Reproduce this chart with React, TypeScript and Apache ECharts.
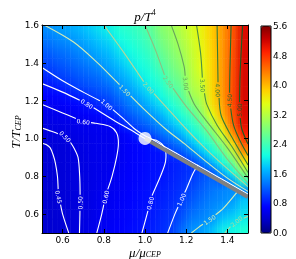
import React, { useEffect, useRef } from "react";
import * as echarts from "echarts";

// ---- grid of p/T^4 values ----
const muCenters = [0.525, 0.575, 0.625, 0.675, 0.725, 0.775, 0.825, 0.875, 0.925, 0.975, 1.025, 1.075, 1.125, 1.175, 1.225, 1.275, 1.325, 1.375, 1.425, 1.475];
const tCenters = [0.525, 0.575, 0.625, 0.675, 0.725, 0.775, 0.825, 0.875, 0.925, 0.975, 1.025, 1.075, 1.125, 1.175, 1.225, 1.275, 1.325, 1.375, 1.425, 1.475, 1.525, 1.575];
// one column per mu value, from low T to high T
const pressureByMu = [
  [0.405, 0.41, 0.415, 0.42, 0.425, 0.43, 0.435, 0.44, 0.445, 0.455, 0.485, 0.52, 0.56, 0.61, 0.70, 0.79, 0.91, 1.03, 1.13, 1.24, 1.35, 1.46],
  [0.425, 0.43, 0.435, 0.44, 0.445, 0.45, 0.452, 0.455, 0.46, 0.475, 0.50, 0.54, 0.585, 0.64, 0.73, 0.85, 1.01, 1.11, 1.22, 1.33, 1.44, 1.55],
  [0.448, 0.452, 0.458, 0.462, 0.465, 0.468, 0.47, 0.475, 0.48, 0.49, 0.52, 0.56, 0.60, 0.68, 0.78, 0.95, 1.08, 1.18, 1.28, 1.38, 1.50, 1.60],
  [0.49, 0.492, 0.493, 0.494, 0.495, 0.496, 0.497, 0.499, 0.505, 0.52, 0.545, 0.58, 0.64, 0.72, 0.85, 1.05, 1.16, 1.26, 1.36, 1.47, 1.57, 1.68],
  [0.54, 0.535, 0.53, 0.53, 0.53, 0.53, 0.535, 0.54, 0.545, 0.555, 0.575, 0.595, 0.68, 0.79, 0.95, 1.12, 1.23, 1.34, 1.46, 1.57, 1.68, 1.79],
  [0.605, 0.595, 0.59, 0.585, 0.58, 0.575, 0.575, 0.575, 0.58, 0.585, 0.59, 0.61, 0.72, 0.88, 1.06, 1.19, 1.30, 1.44, 1.58, 1.69, 1.80, 1.91],
  [0.64, 0.63, 0.62, 0.61, 0.603, 0.595, 0.59, 0.585, 0.585, 0.585, 0.59, 0.63, 0.83, 1.01, 1.14, 1.28, 1.45, 1.58, 1.68, 1.79, 1.90, 2.01],
  [0.68, 0.67, 0.66, 0.655, 0.645, 0.64, 0.63, 0.62, 0.615, 0.61, 0.64, 0.79, 1.01, 1.16, 1.31, 1.47, 1.60, 1.72, 1.85, 1.97, 2.08, 2.18],
  [0.745, 0.73, 0.72, 0.71, 0.70, 0.69, 0.68, 0.675, 0.675, 0.69, 0.74, 1.00, 1.18, 1.35, 1.49, 1.62, 1.76, 1.90, 2.02, 2.10, 2.18, 2.26],
  [0.79, 0.775, 0.765, 0.755, 0.745, 0.735, 0.725, 0.72, 0.72, 0.74, 0.98, 1.16, 1.33, 1.50, 1.66, 1.82, 1.98, 2.07, 2.15, 2.23, 2.30, 2.38],
  [0.84, 0.825, 0.81, 0.795, 0.785, 0.775, 0.77, 0.765, 0.765, 0.78, 1.10, 1.30, 1.50, 1.69, 1.87, 2.03, 2.12, 2.21, 2.30, 2.39, 2.48, 2.57],
  [0.92, 0.90, 0.88, 0.86, 0.84, 0.81, 0.795, 0.79, 0.79, 1.05, 1.28, 1.50, 1.68, 1.90, 2.07, 2.19, 2.31, 2.44, 2.56, 2.66, 2.75, 2.84],
  [1.01, 0.98, 0.95, 0.92, 0.89, 0.87, 0.85, 0.84, 1.05, 1.21, 1.48, 1.71, 1.94, 2.14, 2.31, 2.49, 2.60, 2.69, 2.78, 2.86, 2.93, 2.99],
  [1.25, 1.15, 1.08, 1.01, 0.97, 0.94, 0.92, 0.91, 1.12, 1.41, 1.69, 1.97, 2.18, 2.37, 2.54, 2.66, 2.78, 2.90, 2.98, 3.06, 3.13, 3.19],
  [1.48, 1.36, 1.26, 1.17, 1.10, 1.03, 0.98, 1.02, 1.39, 1.71, 2.02, 2.23, 2.44, 2.73, 3.01, 3.12, 3.18, 3.22, 3.26, 3.30, 3.35, 3.40],
  [1.55, 1.44, 1.36, 1.29, 1.22, 1.16, 1.10, 1.29, 1.70, 2.05, 2.29, 2.54, 2.89, 3.10, 3.20, 3.30, 3.41, 3.51, 3.54, 3.56, 3.59, 3.61],
  [1.72, 1.52, 1.46, 1.40, 1.34, 1.28, 1.17, 1.67, 2.06, 2.35, 2.73, 3.14, 3.50, 3.70, 3.76, 3.80, 3.81, 3.82, 3.83, 3.84, 3.86, 3.87],
  [1.97, 1.78, 1.57, 1.46, 1.42, 1.20, 1.64, 2.08, 2.48, 2.91, 3.45, 3.78, 4.03, 4.11, 4.17, 4.18, 4.19, 4.19, 4.19, 4.18, 4.18, 4.18],
  [2.05, 1.88, 1.70, 1.55, 1.48, 1.56, 2.12, 2.67, 3.19, 3.75, 4.18, 4.52, 4.56, 4.63, 4.65, 4.64, 4.63, 4.62, 4.61, 4.60, 4.58, 4.57],
  [2.17, 2.00, 1.88, 1.78, 1.43, 2.29, 2.94, 3.63, 4.17, 4.59, 4.91, 5.08, 5.12, 5.15, 5.16, 5.16, 5.16, 5.15, 5.15, 5.14, 5.13, 5.12],
];

const xTicks = [0.6, 0.8, 1.0, 1.2, 1.4];
const yTicks = [0.6, 0.8, 1.0, 1.2, 1.4, 1.6];
const colorbarMin = 0;
const colorbarMax = 5.6;
const colorbarStep = 0.8;

const jetColors = ["#000080", "#0000c8", "#0000ff", "#0040ff", "#0080ff", "#00bfff", "#14ffe2", "#48ffaf", "#7bff7b", "#afff48", "#e2ff14", "#ffd200", "#ff9700", "#ff5c00", "#ff2100", "#c80000", "#800000"];

// ---- contour lines: [mu, T] ----
const c045 = [[0.63, 0.5], [0.6, 0.6], [0.58, 0.7], [0.575, 0.8], [0.565, 0.87], [0.555, 0.91], [0.54, 0.95], [0.52, 0.968], [0.5, 0.975]];
const c050 = [[0.682, 0.5], [0.684, 0.6], [0.685, 0.7], [0.683, 0.8], [0.675, 0.9], [0.655, 0.95], [0.635, 0.985], [0.613, 1.01], [0.56, 1.033], [0.5, 1.055]];
const c060 = [[0.766, 0.5], [0.79, 0.6], [0.81, 0.7], [0.84, 0.8], [0.862, 0.9], [0.871, 0.975], [0.862, 1.03], [0.831, 1.063], [0.76, 1.08], [0.7, 1.09], [0.6, 1.135], [0.5, 1.18]];
const c080 = [[0.985, 0.5], [1.01, 0.6], [1.035, 0.7], [1.075, 0.8], [1.1, 0.88], [1.095, 0.95], [1.055, 0.99], [1.0, 1.0], [0.95, 1.033], [0.85, 1.095], [0.718, 1.184], [0.6, 1.245], [0.5, 1.29]];
const c100Low = [[1.11, 0.5], [1.145, 0.6], [1.176, 0.676], [1.2, 0.73], [1.234, 0.817], [1.258, 0.86]];
const c100High = [[1.5, 0.706], [1.4, 0.768], [1.3, 0.83], [1.2, 0.892], [1.1, 0.954], [1.03, 0.999], [1.0, 1.014], [0.95, 1.05], [0.9, 1.1], [0.815, 1.18], [0.7, 1.245], [0.6, 1.305], [0.5, 1.375]];
const c150High = [[0.51, 1.6], [0.653, 1.51], [0.766, 1.404], [0.863, 1.299], [0.903, 1.255], [1.0, 1.15], [1.1, 1.05], [1.2, 0.965], [1.3, 0.875], [1.4, 0.79], [1.5, 0.72]];
const c150Low = [[1.225, 0.5], [1.26, 0.53], [1.313, 0.57], [1.38, 0.63], [1.45, 0.72]];
const c200High = [[0.8, 1.6], [0.9, 1.45], [1.0, 1.29], [1.1, 1.17], [1.2, 1.05], [1.3, 0.94], [1.4, 0.84], [1.5, 0.745]];
const c200Low = [[1.387, 0.5], [1.42, 0.54], [1.444, 0.561], [1.5, 0.588]];
const c250 = [[1.0, 1.6], [1.05, 1.47], [1.1, 1.32], [1.2, 1.17], [1.3, 1.04], [1.4, 0.89], [1.5, 0.765]];
const c300 = [[1.127, 1.6], [1.16, 1.5], [1.19, 1.38], [1.2, 1.28], [1.24, 1.18], [1.3, 1.09], [1.4, 0.95], [1.5, 0.79]];
const c350 = [[1.25, 1.6], [1.27, 1.45], [1.281, 1.28], [1.3, 1.18], [1.35, 1.07], [1.42, 0.96], [1.5, 0.82]];
const c400 = [[1.35, 1.6], [1.353, 1.4], [1.355, 1.255], [1.37, 1.12], [1.42, 1.01], [1.5, 0.86]];
const c450 = [[1.418, 1.6], [1.412, 1.35], [1.41, 1.2], [1.43, 1.07], [1.46, 0.99], [1.5, 0.91]];
const c500 = [[1.474, 1.6], [1.462, 1.35], [1.458, 1.14], [1.47, 1.05], [1.5, 0.97]];

const contours = [
  { level: 0.45, color: "#ffffff", points: c045, labels: [[0.58, 0.69]] },
  { level: 0.5, color: "#ffffff", points: c050, labels: [[0.685, 0.66], [0.613, 1.01]] },
  { level: 0.6, color: "#ffffff", points: c060, labels: [[0.81, 0.69], [0.7, 1.09]] },
  { level: 0.8, color: "#ffffff", points: c080, labels: [[1.023, 0.658], [0.718, 1.184]] },
  { level: 1.0, color: "#ffffff", points: c100Low, labels: [[1.176, 0.676]] },
  { level: 1.0, color: "#ffffff", points: c100High, labels: [[0.815, 1.18]] },
  { level: 1.5, color: "#d4ecb4", points: c150High, labels: [[0.903, 1.255]] },
  { level: 1.5, color: "#d4ecb4", points: c150Low, labels: [[1.313, 0.57]] },
  { level: 2.0, color: "#b4d89a", points: c200High, labels: [[1.016, 1.266]] },
  { level: 2.0, color: "#b4d89a", points: c200Low, labels: [[1.444, 0.561]] },
  { level: 2.5, color: "#8fbf7f", points: c250, labels: [[1.113, 1.3]] },
  { level: 3.0, color: "#68a45c", points: c300, labels: [[1.2, 1.29]] },
  { level: 3.5, color: "#4a8f45", points: c350, labels: [[1.281, 1.28]] },
  { level: 4.0, color: "#347d36", points: c400, labels: [[1.355, 1.255]] },
  { level: 4.5, color: "#226b2a", points: c450, labels: [[1.41, 1.2]] },
  { level: 5.0, color: "#175c21", points: c500, labels: [[1.458, 1.15]] },
];

const transitionLine = [[1.0, 1.0], [1.1, 0.938], [1.2, 0.876], [1.3, 0.814], [1.4, 0.752], [1.5, 0.69]];
const cep = [1.0, 1.0];

const X_MIN = 0.5, X_MAX = 1.5, Y_MIN = 0.5, Y_MAX = 1.6;
const NM = muCenters.length;
const NT = tCenters.length;
const STRIPS = 4;

function buildHeatData() {
  const out: number[][] = [];
  muCenters.forEach((mu, i) => {
    tCenters.forEach((t, j) => {
      out.push([mu, t, pressureByMu[i][j]]);
    });
  });
  return out;
}

// each grid value paints the patch up to its right/upper neighbours, blending the mapped colours
function heatRender(params: any, api: any) {
  const idx = params.dataIndex;
  const i = Math.floor(idx / NT);
  const j = idx % NT;
  const ii = Math.min(i + 1, NM - 1);
  const jj = Math.min(j + 1, NT - 1);
  const col = (a: number, b: number) => api.visual("color", a * NT + b);
  const c00 = col(i, j), c10 = col(ii, j), c01 = col(i, jj), c11 = col(ii, jj);
  const segs: number[][] = [];
  if (i === 0) segs.push([X_MIN, muCenters[0], 0]);
  if (i < NM - 1) {
    const a = muCenters[i], b = muCenters[i + 1];
    for (let k = 0; k < STRIPS; k++) segs.push([a + ((b - a) * k) / STRIPS, a + ((b - a) * (k + 1)) / STRIPS, (k + 0.5) / STRIPS]);
  } else {
    segs.push([muCenters[i], X_MAX, 0]);
  }
  const yBottom = j === 0 ? Y_MIN : tCenters[j];
  const yTop = j === NT - 1 ? Y_MAX : tCenters[j + 1];
  const pyTop = api.coord([X_MIN, yTop])[1];
  const pyBottom = api.coord([X_MIN, yBottom])[1];
  const pyCenterBottom = api.coord([X_MIN, tCenters[j]])[1];
  const h = pyBottom - pyTop;
  const children = segs.map(([x0, x1, f]) => {
    const px0 = api.coord([x0, yTop])[0];
    const px1 = api.coord([x1, yTop])[0];
    const cb = echarts.color.lerp(f, [c00, c10]);
    const ct = echarts.color.lerp(f, [c01, c11]);
    let fill: any = cb;
    if (jj !== j) {
      const o = Math.max(0.001, Math.min(1, (pyCenterBottom - pyTop) / h));
      fill = {
        type: "linear", x: 0, y: 0, x2: 0, y2: 1,
        colorStops: o < 0.999 ? [{ offset: 0, color: ct }, { offset: o, color: cb }, { offset: 1, color: cb }] : [{ offset: 0, color: ct }, { offset: 1, color: cb }],
      };
    }
    return {
      type: "rect",
      shape: { x: px0, y: pyTop, width: px1 - px0 + 0.5, height: h + 0.5 },
      style: { fill, stroke: null },
    };
  });
  return { type: "group", children };
}

function contourRender(params: any, api: any) {
  const c = contours[api.value(2)];
  const pts: number[][] = c.points.map((p) => api.coord(p));
  const cum = [0];
  for (let i = 1; i < pts.length; i++) {
    cum.push(cum[i - 1] + Math.hypot(pts[i][0] - pts[i - 1][0], pts[i][1] - pts[i - 1][1]));
  }
  const total = cum[cum.length - 1];
  const at = (s: number) => {
    for (let i = 0; i < pts.length - 1; i++) {
      if (s <= cum[i + 1] || i === pts.length - 2) {
        const L = cum[i + 1] - cum[i] || 1;
        const f = Math.max(0, Math.min(1, (s - cum[i]) / L));
        return [pts[i][0] + f * (pts[i + 1][0] - pts[i][0]), pts[i][1] + f * (pts[i + 1][1] - pts[i][1])];
      }
    }
    return pts[pts.length - 1];
  };
  const text = c.level.toFixed(2);
  const fs = 6;
  const hw = (text.length * fs * 0.56) / 2 + 1.2;
  const gaps: number[][] = [];
  const texts: any[] = [];
  c.labels.forEach((lp) => {
    const q = api.coord(lp);
    let best = { d: Infinity, s: 0, ang: 0, x: 0, y: 0 };
    for (let i = 0; i < pts.length - 1; i++) {
      const dx = pts[i + 1][0] - pts[i][0];
      const dy = pts[i + 1][1] - pts[i][1];
      const L2 = dx * dx + dy * dy;
      if (L2 === 0) continue;
      let f = ((q[0] - pts[i][0]) * dx + (q[1] - pts[i][1]) * dy) / L2;
      f = Math.max(0, Math.min(1, f));
      const px = pts[i][0] + f * dx;
      const py = pts[i][1] + f * dy;
      const d = Math.hypot(q[0] - px, q[1] - py);
      if (d < best.d) best = { d, s: cum[i] + f * Math.sqrt(L2), ang: Math.atan2(-dy, dx), x: px, y: py };
    }
    let ang = best.ang;
    if (ang > Math.PI / 2) ang -= Math.PI;
    if (ang <= -Math.PI / 2) ang += Math.PI;
    gaps.push([best.s - hw, best.s + hw]);
    texts.push({
      type: "text",
      x: best.x,
      y: best.y,
      rotation: ang,
      style: { text, fill: c.color, fontSize: fs, fontFamily: "DejaVu Sans", align: "center", verticalAlign: "middle", textAlign: "center", textVerticalAlign: "middle" },
    });
  });
  gaps.sort((a, b) => a[0] - b[0]);
  const pieces: number[][] = [];
  let start = 0;
  gaps.forEach((g) => {
    if (g[0] > start) pieces.push([start, g[0]]);
    start = Math.max(start, g[1]);
  });
  if (start < total) pieces.push([start, total]);
  const lines = pieces.map(([a, b]) => {
    const arr = [at(a)];
    for (let i = 0; i < pts.length; i++) if (cum[i] > a && cum[i] < b) arr.push(pts[i]);
    arr.push(at(b));
    return { type: "polyline", shape: { points: arr, smooth: 0.3 }, style: { stroke: c.color, lineWidth: 1.1, fill: "none" } };
  });
  return { type: "group", children: [...lines, ...texts] };
}

const serif = "Liberation Serif";

export default function App() {
  const ref = useRef<HTMLDivElement>(null);
  useEffect(() => {
    if (!ref.current) return;
    const chart = echarts.init(ref.current, undefined, { renderer: "svg" });
    const axisFont = { color: "#000", fontSize: 9, fontFamily: "DejaVu Sans" };
    const tickStyle = { color: "#000", width: 1 };
    chart.setOption({
      animation: false,
      grid: [
        { left: 42, top: 25, width: 206, height: 208, show: false },
        { left: 261, top: 26, width: 10, height: 207, show: false },
      ],
      xAxis: [
        {
          gridIndex: 0, type: "value", min: X_MIN, max: X_MAX, position: "bottom", z: 10,
          axisLine: { show: true, lineStyle: tickStyle },
          axisTick: { show: true, inside: true, length: 4, customValues: xTicks, lineStyle: tickStyle },
          axisLabel: { show: true, customValues: xTicks, formatter: (v: number) => v.toFixed(1), margin: 2, ...axisFont },
          splitLine: { show: false },
        },
        {
          gridIndex: 0, type: "value", min: X_MIN, max: X_MAX, position: "top", z: 10,
          axisLine: { show: true, lineStyle: tickStyle },
          axisTick: { show: true, inside: true, length: 4, customValues: xTicks, lineStyle: tickStyle },
          axisLabel: { show: false },
          splitLine: { show: false },
        },
        { gridIndex: 1, type: "value", min: 0, max: 1, show: false },
      ],
      yAxis: [
        {
          gridIndex: 0, type: "value", min: Y_MIN, max: Y_MAX, position: "left", z: 10,
          axisLine: { show: true, lineStyle: tickStyle },
          axisTick: { show: true, inside: true, length: 4, customValues: yTicks, lineStyle: tickStyle },
          axisLabel: { show: true, customValues: yTicks, formatter: (v: number) => v.toFixed(1), margin: 3, ...axisFont },
          splitLine: { show: false },
        },
        {
          gridIndex: 0, type: "value", min: Y_MIN, max: Y_MAX, position: "right", z: 10,
          axisLine: { show: true, lineStyle: tickStyle },
          axisTick: { show: true, inside: true, length: 4, customValues: yTicks, lineStyle: tickStyle },
          axisLabel: { show: false },
          splitLine: { show: false },
        },
        {
          gridIndex: 1, type: "value", min: colorbarMin, max: colorbarMax, interval: colorbarStep, position: "right", z: 10,
          axisLine: { show: false },
          axisTick: { show: false },
          axisLabel: { show: true, formatter: (v: number) => v.toFixed(1), margin: 2, ...axisFont },
          splitLine: { show: false },
        },
      ],
      visualMap: {
        type: "continuous",
        min: colorbarMin,
        max: colorbarMax,
        dimension: 2,
        seriesIndex: 0,
        inRange: { color: jetColors },
        show: true,
        calculable: false,
        orient: "vertical",
        left: 261,
        top: 26,
        itemWidth: 10,
        itemHeight: 207,
        padding: 0,
      },
      graphic: [
        {
          type: "text", x: 145, y: 16, z: 100,
          style: {
            text: "{a|p/T}{b|4}", align: "center", verticalAlign: "middle", textAlign: "center", textVerticalAlign: "middle",
            rich: {
              a: { fontFamily: serif, fontStyle: "italic", fontSize: 13, lineHeight: 16, fill: "#000" },
              b: { fontFamily: serif, fontSize: 8, lineHeight: 8, verticalAlign: "top", fill: "#000" },
            },
          },
        },
        {
          type: "text", x: 15, y: 132, rotation: Math.PI / 2, z: 100,
          style: {
            text: "{a|T/T}{b|CEP}", align: "center", verticalAlign: "middle", textAlign: "center", textVerticalAlign: "middle",
            rich: {
              a: { fontFamily: serif, fontStyle: "italic", fontSize: 13, lineHeight: 14, fill: "#000" },
              b: { fontFamily: serif, fontStyle: "italic", fontSize: 8, lineHeight: 8, verticalAlign: "bottom", fill: "#000" },
            },
          },
        },
        {
          type: "text", x: 145, y: 252, z: 100,
          style: {
            text: "{a|μ/μ}{b|CEP}", align: "center", verticalAlign: "middle", textAlign: "center", textVerticalAlign: "middle",
            rich: {
              a: { fontFamily: serif, fontStyle: "italic", fontSize: 13, lineHeight: 13, fill: "#000" },
              b: { fontFamily: serif, fontStyle: "italic", fontSize: 8, lineHeight: 8, verticalAlign: "bottom", fill: "#000" },
            },
          },
        },
        {
          type: "rect", z: 100,
          shape: { x: 261, y: 26, width: 10, height: 207 },
          style: { fill: "none", stroke: "#000", lineWidth: 1 },
        },
      ],
      series: [
        {
          type: "custom",
          xAxisIndex: 0,
          yAxisIndex: 0,
          clip: true,
          silent: true,
          z: 1,
          data: buildHeatData(),
          renderItem: heatRender,
        },
        {
          type: "custom",
          xAxisIndex: 0,
          yAxisIndex: 0,
          clip: true,
          silent: true,
          z: 2,
          data: contours.map((c, i) => [c.points[0][0], c.points[0][1], i]),
          renderItem: contourRender,
        },
        {
          type: "line",
          xAxisIndex: 0,
          yAxisIndex: 0,
          data: transitionLine,
          symbol: "none",
          silent: true,
          z: 3,
          lineStyle: { color: "#808080", width: 4 },
        },
        {
          type: "scatter",
          xAxisIndex: 0,
          yAxisIndex: 0,
          data: [cep],
          symbolSize: 13,
          silent: true,
          z: 4,
          itemStyle: { color: "#ffffff", borderWidth: 0 },
        },
      ],
    });
    return () => chart.dispose();
  }, []);
  return <div ref={ref} style={{ position: "fixed", left: 0, top: 0, width: 296, height: 259 }} />;
}
